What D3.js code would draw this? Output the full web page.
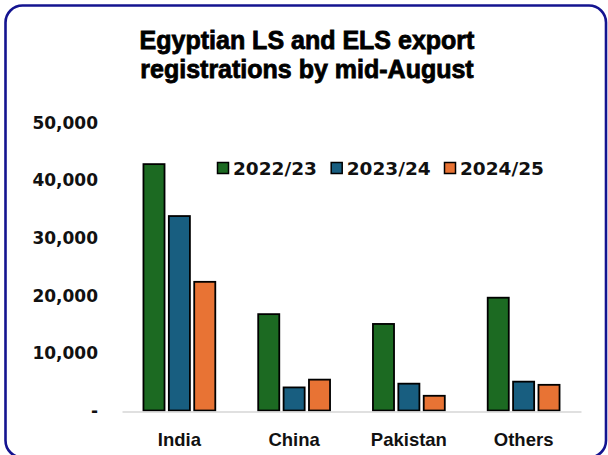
<!DOCTYPE html>
<html>
<head>
<meta charset="utf-8">
<script src="https://cdn.jsdelivr.net/npm/d3@7"></script>
<style>
  html, body { margin: 0; padding: 0; background: #ffffff; }
  svg { display: block; }
</style>
</head>
<body>
<svg id="chart" width="608" height="455"></svg>
<script>
// Export registrations by destination, tonnes
const categories = ["India", "China", "Pakistan", "Others"];
const seasons = ["2022/23", "2023/24", "2024/25"];
const values2022 = [42700, 16700, 15000, 19550];
const values2023 = [33700, 4000, 4650, 5000];
const values2024 = [22300, 5350, 2550, 4450];
const seriesValues = [values2022, values2023, values2024];
const seriesColors = ["#1c6a22", "#185e80", "#e87334"];
const yTicks = [0, 10000, 20000, 30000, 40000, 50000];
const titleLines = ["Egyptian LS and ELS export", "registrations by mid-August"];

const svg = d3.select("#chart");

// Rounded frame
svg.append("rect")
  .attr("x", 5.5).attr("y", 5.5)
  .attr("width", 600.5).attr("height", 452)
  .attr("rx", 17).attr("ry", 17)
  .attr("fill", "#ffffff")
  .attr("stroke", "#141490")
  .attr("stroke-width", 2.6);

// Title
svg.append("g").selectAll("text")
  .data(titleLines)
  .join("text")
  .attr("x", 307)
  .attr("y", (d, i) => 49 + i * 29)
  .attr("text-anchor", "middle")
  .attr("font-family", "'Liberation Sans', Arial, sans-serif")
  .attr("font-weight", "bold")
  .attr("font-size", 25)
  .attr("fill", "#000")
  .attr("stroke", "#000")
  .attr("stroke-width", 0.8)
  .text(d => d);

const plot = { left: 122, right: 581, top: 122, bottom: 410.5 };

const x = d3.scaleBand()
  .domain(categories)
  .range([plot.left, plot.right])
  .paddingInner(0.374)
  .paddingOuter(0.187);

const xInner = d3.scaleBand()
  .domain(seasons)
  .range([0, x.bandwidth()])
  .paddingInner(0.17)
  .paddingOuter(0);

const y = d3.scaleLinear()
  .domain([0, 50000])
  .range([plot.bottom, plot.top]);

// Y axis labels (accounting style, zero shown as a dash)
const yAxis = d3.axisLeft(y)
  .tickValues(yTicks)
  .tickSize(0)
  .tickPadding(0)
  .tickFormat(d => d === 0 ? "-" : d3.format(",")(d));

const gy = svg.append("g")
  .attr("transform", `translate(${98},0)`)
  .call(yAxis);
gy.select(".domain").remove();
gy.selectAll("text")
  .attr("font-family", "'DejaVu Sans', Verdana, sans-serif")
  .attr("font-weight", "bold")
  .attr("font-size", 17)
  .attr("fill", "#111")
  .attr("dy", "0.36em");

// Bars
const groups = svg.append("g").selectAll("g")
  .data(seasons)
  .join("g");

groups.selectAll("rect")
  .data((s, si) => categories.map((c, ci) => ({ c, s, si, v: seriesValues[si][ci] })))
  .join("rect")
  .attr("x", d => x(d.c) + xInner(d.s))
  .attr("y", d => y(d.v))
  .attr("width", xInner.bandwidth())
  .attr("height", d => y(0) - y(d.v))
  .attr("fill", d => seriesColors[d.si])
  .attr("stroke", "#000")
  .attr("stroke-width", 1.8);

// Category axis line
const xAxis = d3.axisBottom(x).tickSize(0).tickPadding(0);
const gx = svg.append("g")
  .attr("transform", `translate(0,${plot.bottom + 1})`)
  .call(xAxis);
gx.select(".domain")
  .attr("stroke", "#d6d6d6")
  .attr("stroke-width", 1.6);
gx.selectAll("text")
  .attr("y", 34)
  .attr("dy", 0)
  .attr("font-family", "'Liberation Sans', Arial, sans-serif")
  .attr("font-weight", "bold")
  .attr("font-size", 18.5)
  .attr("fill", "#111");

// Legend
const legendX = [217, 330.7, 444];
const legend = svg.append("g").selectAll("g")
  .data(seasons)
  .join("g")
  .attr("transform", (d, i) => `translate(${legendX[i]},162)`);
legend.append("rect")
  .attr("x", 0.5).attr("y", 0.5)
  .attr("width", 11).attr("height", 11)
  .attr("fill", (d, i) => seriesColors[i])
  .attr("stroke", "#000")
  .attr("stroke-width", 1.5);
legend.append("text")
  .attr("x", 16)
  .attr("y", 12.8)
  .attr("font-family", "'DejaVu Sans', Verdana, sans-serif")
  .attr("font-weight", "bold")
  .attr("font-size", 18.5)
  .attr("fill", "#111")
  .text(d => d);
</script>
</body>
</html>
